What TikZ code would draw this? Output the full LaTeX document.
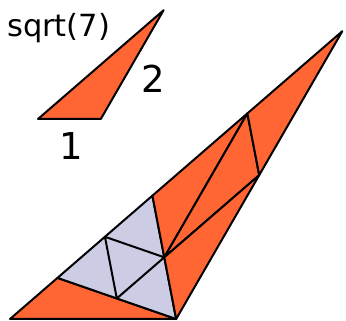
\documentclass[tikz,border=0pt]{standalone}
\usepackage{fontspec}
\setmainfont{DejaVu Sans}
\definecolor{orng}{RGB}{255,102,51}
\definecolor{lav}{RGB}{204,204,229}
\begin{document}
\begin{tikzpicture}[x=1pt,y=1pt,
  tri/.style={draw=black,line width=2pt,line join=round},
  otri/.style={tri,fill=orng},
  ltri/.style={tri,fill=lav},
  lbl/.style={inner sep=0pt,anchor=base}]
\useasboundingbox (0,0) rectangle (346,321);
% small triangle
\begin{scope}[shift={(38pt,202pt)},x=62.8pt,y=62.8pt]
  \coordinate (d) at (0,0);
  \coordinate (e) at (1,0);
  \coordinate (f) at (2,1.7320508);
  \draw[otri] (d) -- (e) -- (f) -- cycle;
\end{scope}
\node[lbl,font=\fontsize{30.5}{30.5}\selectfont,anchor=base west] (t7) at (7,284.5) {sqrt(7)};
\node[lbl,font=\fontsize{37}{37}\selectfont] (t2) at (153,228) {2};
\node[lbl,font=\fontsize{37}{37}\selectfont] (t1) at (71,161) {1};
% big triangle
\begin{scope}[shift={(10pt,2pt)},x=62.8pt,y=62.8pt]
  \coordinate (A) at (0,0);
  \coordinate (B) at (2.6457513,0);
  \coordinate (C) at (5.2915026,4.5825757);
  \coordinate (P1) at (0.7559289,0.6546537);
  \coordinate (N1) at (1.5118579,1.3093073);
  \coordinate (P2) at (2.2677868,1.9639610);
  \coordinate (N2) at (1.7008401,0.3273268);
  \coordinate (M) at (2.4567691,0.9819805);
  \coordinate (Q) at (3.7796447,3.2732684);
  \coordinate (R) at (3.9686270,2.2912878);
  \draw[otri] (A) -- (B) -- (P1) -- cycle;
  \draw[ltri] (P1) -- (P2) -- (B) -- cycle;
  \draw[tri] (N1) -- (M) -- (N2) -- cycle;
  \draw[otri] (P2) -- (Q) -- (M) -- cycle;
  \draw[otri] (M) -- (Q) -- (R) -- cycle;
  \draw[otri] (Q) -- (C) -- (R) -- cycle;
  \draw[otri] (M) -- (R) -- (B) -- cycle;
\end{scope}
\end{tikzpicture}
\end{document}
